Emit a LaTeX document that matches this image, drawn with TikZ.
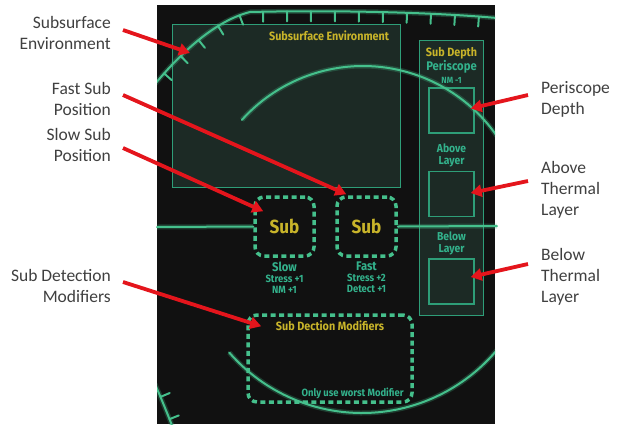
\documentclass[tikz,border=0pt]{standalone}
\usepackage{fontspec}
\setmainfont{Carlito}
\newfontfamily\hudfont{Fira Sans}[FakeStretch=0.9]
\usetikzlibrary{arrows.meta,positioning,decorations.markings}
\definecolor{hudgreen}{HTML}{45C08C}
\definecolor{hudedge}{HTML}{2E9E78}
\definecolor{hudfill}{HTML}{1C2A25}
\definecolor{hudbg}{HTML}{111111}
\definecolor{hudyellow}{HTML}{C8B42A}
\definecolor{hudteal}{HTML}{33B28C}
\definecolor{callred}{HTML}{E4151C}
\definecolor{calltext}{HTML}{404040}

\begin{document}
\begin{tikzpicture}[
  x=1pt, y=-1pt,
  >={Triangle[length=11pt,width=12pt]},
  callout/.style={align=right, font=\fontsize{17.5}{21}\selectfont, text=calltext, inner sep=0pt},
  calloutr/.style={callout, align=left},
  pointer/.style={->, draw=callred, line width=3.8pt},
  panel/.style={draw=hudedge, fill=hudfill, line width=1.2pt, inner sep=0pt},
  slot/.style={panel, minimum width=45pt, minimum height=45pt},
  subbox/.style={draw=hudgreen, line width=3.5pt, dash pattern=on 5pt off 3.5pt, rounded corners=9pt, inner sep=0pt},
  hudtitle/.style={font=\hudfont\bfseries\fontsize{12}{13}\selectfont, text=hudyellow, inner sep=0pt},
  hudnote/.style={font=\hudfont\bfseries\fontsize{10.5}{11}\selectfont, text=hudteal, align=center, inner sep=0pt},
  trace/.style={draw=hudgreen, line width=2pt, line cap=round, preaction={draw=hudgreen, line width=5pt, opacity=0.25}},
  ticks/.style={postaction={decorate}, decoration={markings,
    mark=between positions 14pt and -8pt step 24pt with {\draw[hudgreen, line width=2pt] (0pt,0pt) -- (0pt,#1);}}}
]
\useasboundingbox (0,0) rectangle (621,424);
\fill[white] (0,0) rectangle (621,424);
\fill[hudbg] (157,5) rectangle (495,424);

% screen panels
\node[panel, minimum width=228pt, minimum height=163pt, anchor=north west] (env) at (172,24) {};
\node[hudtitle, anchor=north east] (envtitle) at ([shift={(-12,7)}]env.north east) {Subsurface Environment};

\node[panel, minimum width=64pt, minimum height=275pt, anchor=north west] (depth) at (419,40) {};
\node[hudtitle] (depthtitle) at (451.5,53) {Sub Depth};
\node[hudnote, font=\hudfont\bfseries\fontsize{12.5}{13}\selectfont] (peritext) at (451.5,67) {Periscope};
\node[hudnote, font=\hudfont\bfseries\fontsize{9}{10}\selectfont] (perinm) at (451.5,80) {NM -1};
\node[slot] (peri) at (451.5,110.5) {};
\node[hudnote, font=\hudfont\bfseries\fontsize{11.5}{12.5}\selectfont] (abovetext) at (451.5,155.5) {Above\\Layer};
\node[slot] (above) at (451.5,194) {};
\node[hudnote, font=\hudfont\bfseries\fontsize{11.5}{12.5}\selectfont] (belowtext) at (451.5,243.5) {Below\\Layer};
\node[slot] (below) at (451.5,281.5) {};

% traces
\begin{scope}
\clip (157,5) rectangle (495,424);
\draw[trace, ticks=-10pt] (155,84) .. controls (185,48) and (218,20) .. (250,12) .. controls (330,10) and (430,12) .. (497,18);
\draw[trace] (363,229) ++(-138:163) arc[start angle=-138, end angle=-30, radius=163];
\draw[trace] (362,237) ++(139:176) arc[start angle=139, end angle=35, radius=176];
\draw[trace, ticks=10pt] (155,384) .. controls (161,398) and (166,410) .. (173,428);
\end{scope}

% sub positions
\node[subbox, minimum width=59pt, minimum height=59pt] (slow) at (284.5,226.5) {};
\node[subbox, minimum width=59pt, minimum height=59pt] (fast) at (366.5,226.5) {};
\node[font=\hudfont\bfseries\fontsize{19}{20}\selectfont, text=hudyellow] at (slow) {Sub};
\node[font=\hudfont\bfseries\fontsize{19}{20}\selectfont, text=hudyellow] at (fast) {Sub};
\node[hudnote, below=4pt of slow] (slownote) {{\fontsize{12.5}{12}\selectfont Slow}\\Stress +1\\NM +1};
\node[hudnote, below=4pt of fast] (fastnote) {{\fontsize{12.5}{12}\selectfont Fast}\\Stress +2\\Detect +1};
\draw[trace] (157,227) -- (slow.west);
\draw[trace] (fast.east) -- (497,226);

\node[subbox, minimum width=164pt, minimum height=87pt] (mods) at (330,358.5) {};
\node[hudtitle, anchor=north] (modstitle) at ([yshift=-7pt]mods.north) {Sub Dection Modifiers};
\node[hudnote, anchor=south east] (modsnote) at ([shift={(-10,-5)}]mods.south east) {Only use worst Modifier};

% callouts
\node[callout, anchor=east] (lblenv) at (111,33) {Subsurface\\Environment};
\node[callout, anchor=east] (lblfast) at (111,98.5) {Fast Sub\\Position};
\node[callout, anchor=east] (lblslow) at (111,144.5) {Slow Sub\\Position};
\node[callout, anchor=east] (lblmods) at (111,286) {Sub Detection\\Modifiers};
\node[calloutr, anchor=west] (lblperi) at (541,99) {Periscope\\Depth};
\node[calloutr, anchor=west] (lblabove) at (541,190) {Above\\Thermal\\Layer};
\node[calloutr, anchor=west] (lblbelow) at (541,277) {Below\\Thermal\\Layer};

\coordinate (envtip) at (190,53);
\draw[pointer] ([shift={(12,-3)}]lblenv.east) -- (envtip);
\draw[pointer] ([shift={(12,-3.5)}]lblfast.east) -- ([shift={(11,-1)}]fast.north west);
\draw[pointer] ([shift={(12,3.5)}]lblslow.east) -- ([shift={(10,16)}]slow.north west);
\draw[pointer] ([shift={(12,-4)}]lblmods.east) -- ([shift={(15,13)}]mods.north west);
\draw[pointer] ([shift={(-13,-4)}]lblperi.west) -- ([shift={(-4,-2)}]peri.east);
\draw[pointer] ([shift={(-13,-9)}]lblabove.west) -- ([shift={(-4,-1)}]above.east);
\draw[pointer] ([shift={(-13,-13)}]lblbelow.west) -- ([shift={(-4,-4.5)}]below.east);
\end{tikzpicture}
\end{document}
